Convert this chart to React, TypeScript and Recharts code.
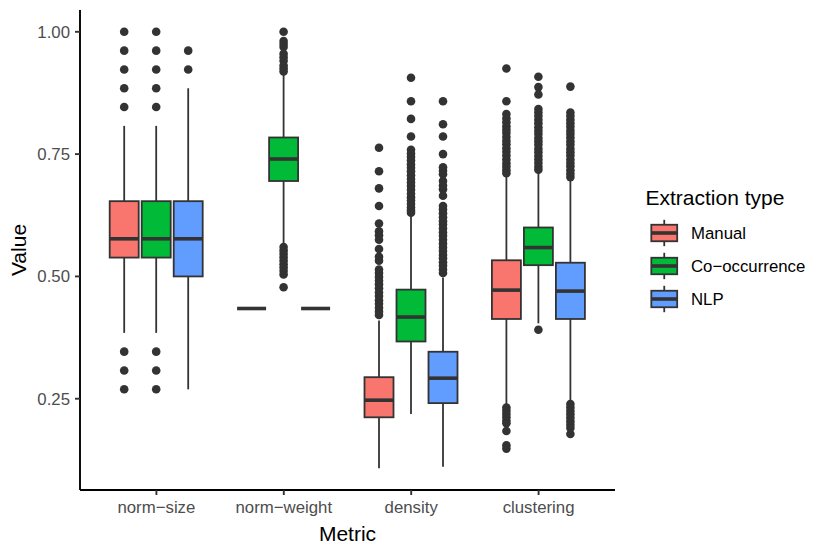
import { ComposedChart, Bar, XAxis, YAxis, Label } from "recharts";

const FONT = "'Liberation Sans', Arial, Helvetica, sans-serif";
const INK = "#333333";

const METRICS = ["norm−size", "norm−weight", "density", "clustering"];
const SERIES_NAMES = ["Manual", "Co−occurrence", "NLP"];
const SERIES_KEYS = ["manual", "cooc", "nlp"];
const SERIES_COLORS = ["#F8766D", "#00BA38", "#619CFF"];
const Y_TICKS = [0.25, 0.5, 0.75, 1.0];
const Y_DOMAIN = [0.0634, 1.0446];

// per metric: [lower whisker, q1, median, q3, upper whisker]
const MANUAL_BOX = [
  [0.3846, 0.5385, 0.5769, 0.6538, 0.8077],
  [0.4344, 0.4344, 0.4344, 0.4344, 0.4344],
  [0.108, 0.212, 0.247, 0.294, 0.41],
  [0.236, 0.413, 0.472, 0.533, 0.706],
];
const COOC_BOX = [
  [0.3846, 0.5385, 0.5769, 0.6538, 0.8077],
  [0.567, 0.695, 0.74, 0.784, 0.915],
  [0.219, 0.367, 0.417, 0.473, 0.625],
  [0.404, 0.523, 0.559, 0.6, 0.713],
];
const NLP_BOX = [
  [0.2692, 0.5, 0.5769, 0.6538, 0.8846],
  [0.4344, 0.4344, 0.4344, 0.4344, 0.4344],
  [0.111, 0.241, 0.292, 0.346, 0.498],
  [0.245, 0.413, 0.47, 0.528, 0.695],
];

// outlying points per metric
const MANUAL_OUT = [
  [1.0, 0.9615, 0.9231, 0.8846, 0.8462, 0.3462, 0.3077, 0.2692],
  [],
  [0.763, 0.715, 0.68, 0.644, 0.608, 0.592, 0.584, 0.575, 0.556, 0.54, 0.532, 0.514, 0.507, 0.499, 0.491, 0.484, 0.476, 0.467, 0.46, 0.451, 0.444, 0.436, 0.428, 0.421],
  [0.925, 0.858, 0.832, 0.823, 0.815, 0.807, 0.8, 0.793, 0.785, 0.777, 0.77, 0.762, 0.755, 0.747, 0.739, 0.731, 0.724, 0.717, 0.711, 0.232, 0.226, 0.219, 0.212, 0.205, 0.2, 0.184, 0.155, 0.148],
];
const COOC_OUT = [
  [1.0, 0.9615, 0.9231, 0.8846, 0.8462, 0.3462, 0.3077, 0.2692],
  [1.0, 0.981, 0.975, 0.969, 0.955, 0.948, 0.941, 0.931, 0.925, 0.919, 0.56, 0.553, 0.546, 0.539, 0.532, 0.525, 0.518, 0.511, 0.504, 0.478],
  [0.906, 0.858, 0.822, 0.786, 0.759, 0.751, 0.744, 0.737, 0.729, 0.722, 0.715, 0.707, 0.699, 0.692, 0.685, 0.677, 0.669, 0.662, 0.655, 0.648, 0.641, 0.635, 0.63],
  [0.908, 0.887, 0.872, 0.842, 0.835, 0.828, 0.82, 0.813, 0.805, 0.798, 0.791, 0.783, 0.776, 0.769, 0.761, 0.754, 0.746, 0.739, 0.732, 0.724, 0.718, 0.391],
];
const NLP_OUT = [
  [0.9615, 0.9231],
  [],
  [0.858, 0.811, 0.786, 0.75, 0.723, 0.716, 0.709, 0.695, 0.686, 0.678, 0.665, 0.644, 0.637, 0.629, 0.621, 0.613, 0.606, 0.598, 0.59, 0.583, 0.575, 0.567, 0.559, 0.552, 0.544, 0.537, 0.529, 0.522, 0.514, 0.507],
  [0.888, 0.835, 0.828, 0.82, 0.813, 0.806, 0.798, 0.791, 0.784, 0.776, 0.769, 0.761, 0.754, 0.747, 0.739, 0.732, 0.725, 0.717, 0.71, 0.703, 0.239, 0.232, 0.225, 0.218, 0.211, 0.204, 0.197, 0.19, 0.178],
];

const BOXES = [MANUAL_BOX, COOC_BOX, NLP_BOX];
const OUTLIERS = [MANUAL_OUT, COOC_OUT, NLP_OUT];

const rows = METRICS.map((metric, i) => {
  const row: Record<string, unknown> = { metric };
  SERIES_KEYS.forEach((key, s) => {
    const b = BOXES[s][i];
    row[key] = [b[0], b[4]];
  });
  return row;
});

function makeBoxShape(s: number) {
  return (props: any) => {
    const { x, y, width, height, payload } = props;
    let i = METRICS.indexOf(payload?.metric);
    if (i < 0) i = props.index ?? 0;
    const [lo, q1, med, q3, hi] = BOXES[s][i];
    const top = Math.min(y, y + height);
    const bottom = Math.max(y, y + height);
    // bar spans [lo, hi] on the y scale, so map the other stats inside it
    const py = (v: number) =>
      hi > lo ? bottom - ((v - lo) / (hi - lo)) * (bottom - top) : top;
    const cx = x + width / 2;
    return (
      <g>
        <line x1={cx} x2={cx} y1={py(hi)} y2={py(q3)} stroke={INK} strokeWidth={1.8} />
        <line x1={cx} x2={cx} y1={py(q1)} y2={py(lo)} stroke={INK} strokeWidth={1.8} />
        <rect
          x={x}
          y={py(q3)}
          width={width}
          height={Math.max(0, py(q1) - py(q3))}
          fill={SERIES_COLORS[s]}
          stroke={INK}
          strokeWidth={1.8}
        />
        <line x1={x} x2={x + width} y1={py(med)} y2={py(med)} stroke={INK} strokeWidth={3.6} />
        {OUTLIERS[s][i].map((v, k) => (
          <circle key={k} cx={cx} cy={py(v)} r={4.3} fill={INK} />
        ))}
      </g>
    );
  };
}

const renderYTitle = (p: any) => {
  const vb = p.viewBox || { x: 0, y: 10, width: 80, height: 480 };
  const tx = vb.x + 26;
  const ty = vb.y + vb.height / 2;
  return (
    <text x={tx} y={ty} transform={`rotate(-90, ${tx}, ${ty})`} textAnchor="middle" fontSize={21} fill="#000" fontFamily={FONT}>
      Value
    </text>
  );
};

const renderXTitle = (p: any) => {
  const vb = p.viewBox || { x: 80, y: 490, width: 535, height: 40 };
  return (
    <text x={vb.x + vb.width / 2} y={vb.y + 51} textAnchor="middle" fontSize={21} fill="#000" fontFamily={FONT}>
      Metric
    </text>
  );
};

function LegendOverlay() {
  const keyW = 34.5;
  const keyH = 33;
  const left = 647;
  const firstTop = 216.5;
  return (
    <svg width={830} height={554} style={{ position: "absolute", left: 0, top: 0, pointerEvents: "none" }}>
      <text x={645.5} y={204.5} fontSize={21} fill="#000" fontFamily={FONT}>
        Extraction type
      </text>
      {SERIES_NAMES.map((name, s) => {
        const top = firstTop + s * keyH;
        const cx = left + keyW / 2;
        return (
          <g key={name}>
            <line x1={cx} x2={cx} y1={top + keyH * 0.1} y2={top + keyH * 0.25} stroke={INK} strokeWidth={1.8} />
            <line x1={cx} x2={cx} y1={top + keyH * 0.75} y2={top + keyH * 0.9} stroke={INK} strokeWidth={1.8} />
            <rect x={left + keyW * 0.125} y={top + keyH * 0.25} width={keyW * 0.75} height={keyH * 0.5} fill={SERIES_COLORS[s]} stroke={INK} strokeWidth={1.8} />
            <line x1={left + keyW * 0.125} x2={left + keyW * 0.875} y1={top + keyH / 2} y2={top + keyH / 2} stroke={INK} strokeWidth={3.6} />
            <text x={691} y={top + keyH / 2 + 6} fontSize={16.8} fill="#000" fontFamily={FONT}>
              {name}
            </text>
          </g>
        );
      })}
    </svg>
  );
}

export default function App() {
  return (
    <div style={{ position: "relative", width: 830, height: 554, fontFamily: FONT, background: "#fff" }}>
      <style>{"body{margin:0}"}</style>
      <ComposedChart
        width={830}
        height={554}
        data={rows}
        margin={{ top: 10, right: 215, bottom: 24, left: 0 }}
        barSize={29}
        barGap={3}
      >
        <XAxis
          dataKey="metric"
          interval={0}
          height={40}
          padding={{ left: 12.7, right: 12.7 }}
          axisLine={{ stroke: "#000", strokeWidth: 1.9 }}
          tickLine={{ stroke: INK, strokeWidth: 1.9 }}
          tickSize={5}
          tickMargin={6}
          tick={{ fill: "#4D4D4D", fontSize: 16.8 }}
        >
          <Label content={renderXTitle} />
        </XAxis>
        <YAxis
          type="number"
          domain={Y_DOMAIN}
          allowDataOverflow
          ticks={Y_TICKS}
          tickFormatter={(v: number) => v.toFixed(2)}
          width={80}
          axisLine={{ stroke: "#000", strokeWidth: 1.9 }}
          tickLine={{ stroke: INK, strokeWidth: 1.9 }}
          tickSize={5}
          tickMargin={5}
          tick={{ fill: "#4D4D4D", fontSize: 16.8 }}
        >
          <Label content={renderYTitle} />
        </YAxis>
        {SERIES_KEYS.map((key, s) => (
          <Bar
            key={key}
            dataKey={key}
            name={SERIES_NAMES[s]}
            fill={SERIES_COLORS[s]}
            shape={makeBoxShape(s)}
            isAnimationActive={false}
          />
        ))}
      </ComposedChart>
      <LegendOverlay />
    </div>
  );
}
